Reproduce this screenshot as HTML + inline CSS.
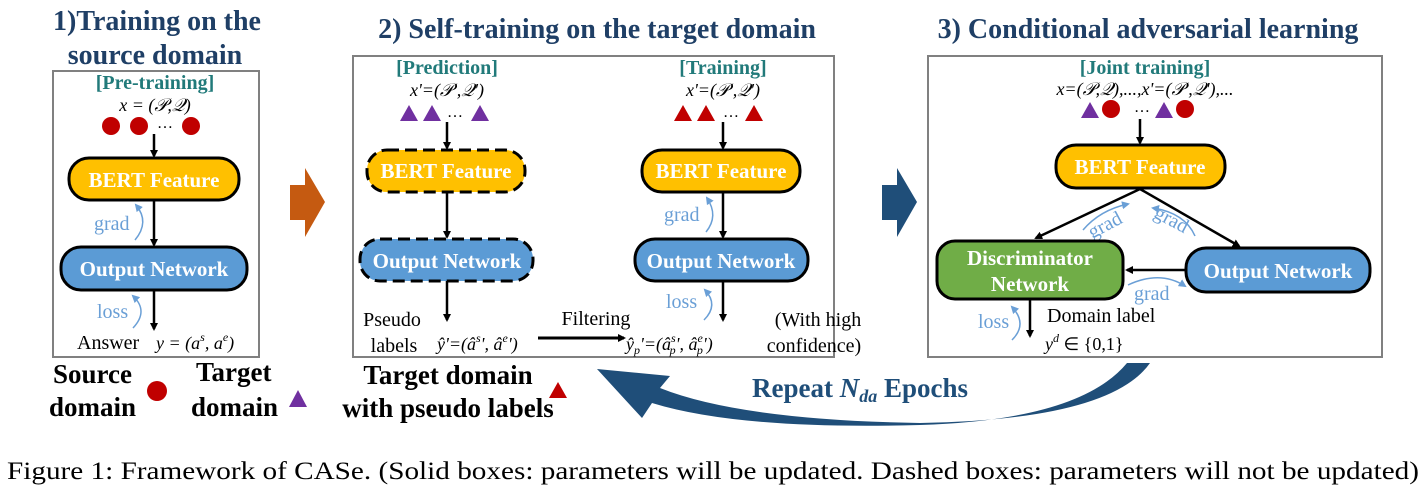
<!DOCTYPE html>
<html><head><meta charset="utf-8"><style>
html,body{margin:0;padding:0;background:#fff;}
svg{display:block;font-family:"Liberation Serif",serif;}
.t{fill:#1f3f66;font-weight:bold;font-size:28px;}
.g{fill:#217a7a;font-weight:bold;font-size:20px;}
.w{fill:#fff;font-weight:bold;font-size:21px;}
.m{font-size:18px;font-style:italic;}
.b{font-size:20px;}
.lb{fill:#6a9fd6;font-size:20px;}
.k{font-weight:bold;font-size:27px;fill:#000;}
</style></head><body>
<svg width="1427" height="500" viewBox="0 0 1427 500">
<defs>
<marker id="a" markerWidth="8" markerHeight="8" refX="6" refY="4" orient="auto" markerUnits="userSpaceOnUse"><path d="M0,0 L8,4 L0,8 z" fill="#000"/></marker>
<marker id="c" markerWidth="8" markerHeight="8" refX="6" refY="4" orient="auto" markerUnits="userSpaceOnUse"><path d="M0,0 L8,4 L0,8 z" fill="#6a9fd6"/></marker>
</defs>
<text class="t" x="157" y="30" text-anchor="middle">1)Training on the</text>
<text class="t" x="155" y="64" text-anchor="middle">source domain</text>
<text class="t" x="597" y="38" text-anchor="middle">2) Self-training on the target domain</text>
<text class="t" x="1148" y="38" text-anchor="middle">3) Conditional adversarial learning</text>
<!-- panel 1 -->
<rect x="53" y="71" width="206" height="286" fill="none" stroke="#808080" stroke-width="2"/>
<text class="g" x="155" y="89" text-anchor="middle">[Pre-training]</text>
<text class="m" x="155" y="111" text-anchor="middle">x = (𝒫,𝒬)</text>
<circle cx="111" cy="126" r="9" fill="#c00000"/><circle cx="139" cy="126" r="9" fill="#c00000"/><circle cx="191" cy="126" r="9" fill="#c00000"/>
<text x="165" y="128" font-size="16" text-anchor="middle">…</text>
<line x1="154" y1="134" x2="154" y2="156" stroke="#000" stroke-width="2.5" marker-end="url(#a)"/>
<rect x="69" y="158" width="170" height="42" rx="20" fill="#ffc000" stroke="#000" stroke-width="3"/>
<text class="w" x="154" y="187" text-anchor="middle">BERT Feature</text>
<line x1="154" y1="200" x2="154" y2="245" stroke="#000" stroke-width="2.5" marker-end="url(#a)"/>
<text class="lb" x="94" y="230">grad</text>
<path d="M135,240 Q150,222 136,205" fill="none" stroke="#6a9fd6" stroke-width="1.5" marker-end="url(#c)"/>
<rect x="61" y="247" width="186" height="43" rx="20" fill="#5b9bd5" stroke="#000" stroke-width="3"/>
<text class="w" x="154" y="276" text-anchor="middle">Output Network</text>
<line x1="154" y1="290" x2="154" y2="329" stroke="#000" stroke-width="2.5" marker-end="url(#a)"/>
<text class="lb" x="97" y="318">loss</text>
<path d="M133,328 Q149,311 133,296" fill="none" stroke="#6a9fd6" stroke-width="1.5" marker-end="url(#c)"/>
<text class="b" x="77" y="349">Answer</text>
<text class="m" x="156" y="349" font-size="20">y = (a<tspan font-size="12" dy="-8">s</tspan><tspan dy="8">, a</tspan><tspan font-size="12" dy="-8">e</tspan><tspan dy="8">)</tspan></text>
<text class="k" x="53" y="383">Source</text><text class="k" x="49" y="416">domain</text>
<circle cx="157" cy="391" r="10" fill="#c00000"/>
<text class="k" x="196" y="381">Target</text><text class="k" x="191" y="416">domain</text>
<path d="M289,407 L298,390 L307,407 z" fill="#7030a0"/>
<path d="M290,185 L305,185 L305,168 L325,202 L305,237 L305,220 L290,220 z" fill="#c55a11"/>
<!-- panel 2 -->
<rect x="353" y="56" width="481" height="301" fill="none" stroke="#808080" stroke-width="2"/>
<text class="g" x="447" y="74" text-anchor="middle">[Prediction]</text>
<text class="m" x="447" y="96" text-anchor="middle">x'=(𝒫',𝒬')</text>
<path d="M400,121 L409,105 L418,121 z M423,121 L432,105 L441,121 z M471,121 L480,105 L489,121 z" fill="#7030a0"/>
<text x="455" y="117" font-size="16" text-anchor="middle">…</text>
<line x1="447" y1="122" x2="447" y2="148" stroke="#000" stroke-width="2.5" marker-end="url(#a)"/>
<rect x="367" y="150" width="158" height="42" rx="20" fill="#ffc000" stroke="#000" stroke-width="3" stroke-dasharray="12,6"/>
<text class="w" x="446" y="178" text-anchor="middle">BERT Feature</text>
<line x1="447" y1="192" x2="447" y2="237" stroke="#000" stroke-width="2.5" marker-end="url(#a)"/>
<rect x="360" y="239" width="173" height="42" rx="20" fill="#5b9bd5" stroke="#000" stroke-width="3" stroke-dasharray="12,6"/>
<text class="w" x="447" y="268" text-anchor="middle">Output Network</text>
<line x1="447" y1="281" x2="447" y2="320" stroke="#000" stroke-width="2.5" marker-end="url(#a)"/>
<text class="b" x="392" y="326" text-anchor="middle">Pseudo</text>
<text class="b" x="394" y="352" text-anchor="middle">labels</text>
<text class="m" x="437" y="350" font-size="20">ŷ'=(â<tspan font-size="12" dy="-8">s</tspan><tspan dy="8">', â</tspan><tspan font-size="12" dy="-8">e</tspan><tspan dy="8">')</tspan></text>
<line x1="538" y1="338" x2="624" y2="338" stroke="#000" stroke-width="3" marker-end="url(#a)"/>
<text class="b" x="596" y="325" text-anchor="middle">Filtering</text>
<text class="g" x="723" y="74" text-anchor="middle">[Training]</text>
<text class="m" x="723" y="96" text-anchor="middle">x'=(𝒫',𝒬')</text>
<path d="M674,121 L683,105 L692,121 z M697,121 L706,105 L715,121 z M745,121 L754,105 L763,121 z" fill="#c00000"/>
<text x="731" y="117" font-size="16" text-anchor="middle">…</text>
<line x1="723" y1="122" x2="723" y2="148" stroke="#000" stroke-width="2.5" marker-end="url(#a)"/>
<rect x="642" y="150" width="158" height="42" rx="20" fill="#ffc000" stroke="#000" stroke-width="3"/>
<text class="w" x="721" y="178" text-anchor="middle">BERT Feature</text>
<line x1="723" y1="192" x2="723" y2="237" stroke="#000" stroke-width="2.5" marker-end="url(#a)"/>
<text class="lb" x="664" y="221">grad</text>
<path d="M706,232 Q719,216 707,198" fill="none" stroke="#6a9fd6" stroke-width="1.5" marker-end="url(#c)"/>
<rect x="635" y="239" width="173" height="42" rx="20" fill="#5b9bd5" stroke="#000" stroke-width="3"/>
<text class="w" x="721" y="268" text-anchor="middle">Output Network</text>
<line x1="723" y1="281" x2="723" y2="320" stroke="#000" stroke-width="2.5" marker-end="url(#a)"/>
<text class="lb" x="666" y="308">loss</text>
<path d="M704,320 Q719,305 705,290" fill="none" stroke="#6a9fd6" stroke-width="1.5" marker-end="url(#c)"/>
<text class="m" x="626" y="350" font-size="20">ŷ<tspan font-size="12" dy="4">p</tspan><tspan dy="-4">'=(â</tspan><tspan font-size="12" dy="-8">s</tspan><tspan font-size="12" dx="-6" dy="12">p</tspan><tspan dy="-4">', â</tspan><tspan font-size="12" dy="-8">e</tspan><tspan font-size="12" dx="-6" dy="12">p</tspan><tspan dy="-4">')</tspan></text>
<text class="b" x="818" y="326" text-anchor="middle">(With high</text>
<text class="b" x="814" y="352" text-anchor="middle">confidence)</text>
<text class="k" x="448" y="384" text-anchor="middle">Target domain</text>
<text class="k" x="448" y="417" text-anchor="middle">with pseudo labels</text>
<path d="M549,398 L558,382 L567,398 z" fill="#c00000"/>
<path d="M882,185 L897,185 L897,168 L917,202 L897,237 L897,220 L882,220 z" fill="#1f4e79"/>
<!-- panel 3 -->
<rect x="928" y="56" width="454" height="301" fill="none" stroke="#808080" stroke-width="2"/>
<text class="g" x="1145" y="74" text-anchor="middle">[Joint training]</text>
<text class="m" x="1145" y="95" text-anchor="middle">x=(𝒫,𝒬),...,x'=(𝒫',𝒬'),...</text>
<path d="M1081,118 L1090,102 L1099,118 z M1155,118 L1164,102 L1173,118 z" fill="#7030a0"/>
<circle cx="1111" cy="109" r="9" fill="#c00000"/><circle cx="1185" cy="109" r="9" fill="#c00000"/>
<text x="1142" y="112" font-size="16" text-anchor="middle">…</text>
<line x1="1140" y1="119" x2="1140" y2="143" stroke="#000" stroke-width="2.5" marker-end="url(#a)"/>
<rect x="1056" y="145" width="169" height="43" rx="20" fill="#ffc000" stroke="#000" stroke-width="3"/>
<text class="w" x="1140" y="174" text-anchor="middle">BERT Feature</text>
<line x1="1140" y1="189" x2="1036" y2="238" stroke="#000" stroke-width="2.5" marker-end="url(#a)"/>
<line x1="1140" y1="189" x2="1239" y2="246" stroke="#000" stroke-width="2.5" marker-end="url(#a)"/>
<text class="lb" x="1088" y="234" transform="rotate(-28 1100 228)">grad</text>
<text class="lb" x="1148" y="224" transform="rotate(28 1165 230)">grad</text>
<path d="M1083,230 Q1100,210 1128,204" fill="none" stroke="#6a9fd6" stroke-width="1.5" marker-end="url(#c)"/>
<path d="M1195,236 Q1185,213 1153,208" fill="none" stroke="#6a9fd6" stroke-width="1.5" marker-end="url(#c)"/>
<rect x="937" y="241" width="186" height="58" rx="18" fill="#70ad47" stroke="#000" stroke-width="3"/>
<text class="w" x="1030" y="265" text-anchor="middle">Discriminator</text>
<text class="w" x="1030" y="291" text-anchor="middle">Network</text>
<rect x="1186" y="248" width="184" height="44" rx="20" fill="#5b9bd5" stroke="#000" stroke-width="3"/>
<text class="w" x="1278" y="278" text-anchor="middle">Output Network</text>
<line x1="1186" y1="270" x2="1127" y2="270" stroke="#000" stroke-width="2.5" marker-end="url(#a)"/>
<path d="M1128,285 Q1160,270 1185,286" fill="none" stroke="#6a9fd6" stroke-width="1.5" marker-end="url(#c)"/>
<text class="lb" x="1134" y="300">grad</text>
<line x1="1030" y1="299" x2="1030" y2="336" stroke="#000" stroke-width="2.5" marker-end="url(#a)"/>
<text class="lb" x="978" y="328">loss</text>
<path d="M1012,340 Q1028,324 1012,307" fill="none" stroke="#6a9fd6" stroke-width="1.5" marker-end="url(#c)"/>
<text class="b" x="1047" y="322">Domain label</text>
<text class="m" x="1045" y="350" font-size="20">y<tspan font-size="12" dy="-8">d</tspan><tspan dy="8" font-style="normal"> ∈ {0,1}</tspan></text>
<path d="M1150,363 Q1110,420 920,423 Q740,420 660,388 L670,376 L597,369 L642,418 L652,403 Q740,430 920,425 Q1080,420 1127,363 z" fill="#1f4e79"/>
<text x="752" y="397" font-size="27" font-weight="bold" fill="#1f4e79">Repeat <tspan font-style="italic">N</tspan><tspan font-style="italic" font-size="18" dy="5">da</tspan><tspan dy="-5"> Epochs</tspan></text>
<text x="7" y="479" font-size="25" textLength="1412" lengthAdjust="spacingAndGlyphs">Figure 1: Framework of CASe. (Solid boxes: parameters will be updated. Dashed boxes: parameters will not be updated)</text>
</svg>
</body></html>
